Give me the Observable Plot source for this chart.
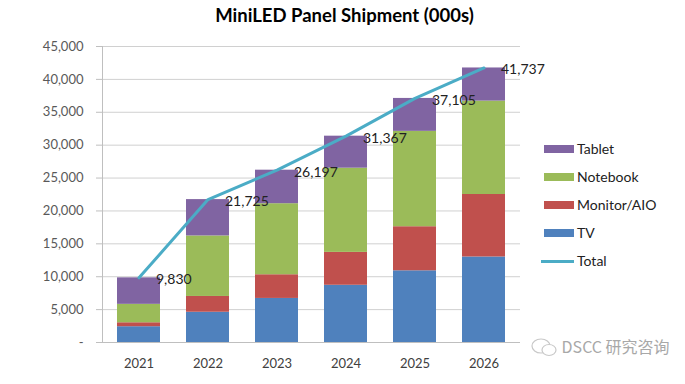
<!DOCTYPE html>
<html><head><meta charset="utf-8">
<script src="https://cdn.jsdelivr.net/npm/d3@7"></script>
<script src="https://cdn.jsdelivr.net/npm/@observablehq/plot@0.6"></script>
<style>
body{margin:0;background:#fff;font-family:Lato,"Noto Sans",sans-serif;}
#wrap{position:relative;width:685px;height:384px;overflow:hidden;}
#title{height:30px;line-height:30px;text-align:center;font-weight:bold;font-size:18.5px;color:#000;padding-left:4px;}
#legend{position:absolute;left:538px;top:140px;font-size:14px;color:#222;}
.li{position:absolute;left:0;height:18px;white-space:nowrap;}
.sw{position:absolute;left:6px;width:30px;height:8px;}
.lt{position:absolute;left:39px;top:-9px;line-height:18px;}
#wm{position:absolute;left:530px;top:334px;color:#a8a8a8;font-size:16px;white-space:nowrap;font-family:"Noto Sans CJK SC","Noto Sans",sans-serif;}
</style></head><body>
<div id="wrap">
<div id="title">MiniLED Panel Shipment (000s)</div>
<div id="chart"></div>
<div id="legend"></div>
<div id="wm"><svg width="28" height="22" style="vertical-align:-5px"><ellipse cx="11" cy="10" rx="9" ry="7" fill="none" stroke="#c8c8c8" stroke-width="1.2"/><ellipse cx="19" cy="14" rx="7" ry="5.5" fill="#fff" stroke="#c8c8c8" stroke-width="1.2"/></svg> DSCC 研究咨询</div>
</div>
<script>
const years = ["2021","2022","2023","2024","2025","2026"];
const tv       = [2400, 4600, 6700, 8700, 10900, 13000];
const monitor  = [600, 2400, 3600, 5000, 6700, 9500];
const notebook = [2800, 9200, 10800, 12800, 14500, 14200];
const tablet   = [4030, 5525, 5097, 4867, 5005, 5037];
const totals   = [9830, 21725, 26197, 31367, 37105, 41737];
const seriesNames = ["TV","Monitor/AIO","Notebook","Tablet"];
const seriesColors = ["#4f81bd","#c0504d","#9bbb59","#8064a2"];
const totalName = "Total";
const totalColor = "#4bacc6";
const yTicks = [0,5000,10000,15000,20000,25000,30000,35000,40000,45000];

const seriesValues = [tv, monitor, notebook, tablet];
const rows = years.flatMap((y,i)=>seriesNames.map((s,j)=>({year:y, series:s, value:seriesValues[j][i]})));
const tot = years.map((y,i)=>({year:y, total:totals[i]}));
const fmt = d3.format(",");

const chart = Plot.plot({
  width:685, height:354,
  marginTop:16, marginBottom:42, marginLeft:102, marginRight:165,
  style:{fontFamily:"Lato, sans-serif", fontSize:"13px", background:"#fff", color:"#404040"},
  x:{domain:years, paddingInner:0.37, paddingOuter:0.185, label:null},
  y:{domain:[0,45000], label:null},
  color:{domain:seriesNames, range:seriesColors},
  marks:[
    Plot.ruleY(yTicks.slice(1), {stroke:"#d0d0d0", strokeWidth:1}),
    Plot.barY(rows, {x:"year", y:"value", fill:"series", order:seriesNames}),
    Plot.ruleY([0], {stroke:"#bfbfbf"}),
    Plot.frame({anchor:"left", stroke:"#bfbfbf"}),
    Plot.axisY({ticks:yTicks, tickFormat:d=>d===0?"-":fmt(d), tickSize:6, tickPadding:13, stroke:"#bfbfbf", fill:"#595959", label:null, fontSize:13}),
    Plot.axisX({tickSize:0, tickPadding:16, fill:"#404040", label:null, fontSize:13}),
    Plot.line(tot, {x:"year", y:"total", stroke:totalColor, strokeWidth:3}),
    Plot.text(tot, {x:"year", y:"total", text:d=>fmt(d.total), dx:17, dy:2, textAnchor:"start", fill:"#222", fontSize:14})
  ]
});
document.getElementById("chart").appendChild(chart);

const legend = document.getElementById("legend");
const items = [...seriesNames.map((s,i)=>({name:s,color:seriesColors[i],line:false}))].reverse().concat([{name:totalName,color:totalColor,line:true}]);
items.forEach((it,k)=>{
  const d = document.createElement("div");
  d.className="li"; d.style.top=(9+k*28)+"px";
  const sw = document.createElement("div");
  sw.className="sw"; sw.style.background=it.color;
  if(it.line){sw.style.height="3px";sw.style.top="-1.5px";sw.style.left="3px";sw.style.width="33px";} else {sw.style.top="-4px";}
  const t = document.createElement("div"); t.className="lt"; t.textContent=it.name;
  d.appendChild(sw); d.appendChild(t); legend.appendChild(d);
});
</script>
</body></html>
